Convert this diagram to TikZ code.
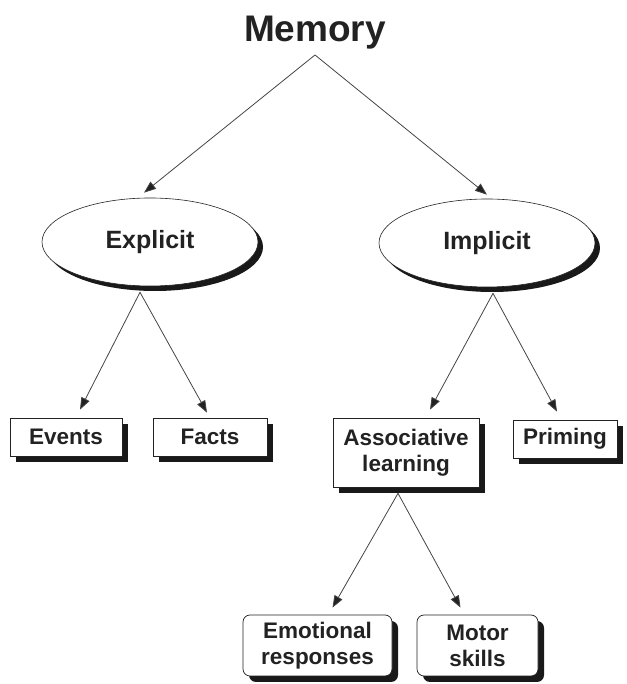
\documentclass[tikz,border=0pt]{standalone}
\usepackage{fontspec}
\setmainfont{Liberation Sans}
\usetikzlibrary{shapes.geometric,shadows,arrows.meta,calc}
\definecolor{ink}{HTML}{222222}
\definecolor{linec}{HTML}{444444}
\tikzset{
  x=1pt,y=1pt,
  arr/.style={draw=linec,line width=0.8pt,-{Triangle[length=12pt,width=9pt,fill=ink]}},
  ovalbox/.style={ellipse,draw=ink,line width=0.6pt,fill=white,inner sep=0pt,
    minimum width=216pt,minimum height=88pt,text=ink,
    font=\fontsize{25}{28}\selectfont\bfseries,
    drop shadow={shadow xshift=5pt,shadow yshift=-5pt,fill=black!90,opacity=1}},
  sqbox/.style={rectangle,draw=ink,line width=0.7pt,fill=white,inner sep=0pt,
    text=ink,align=center,font=\fontsize{22.5}{26}\selectfont\bfseries,
    drop shadow={shadow xshift=6pt,shadow yshift=-6pt,fill=black!90,opacity=1}},
  rdbox/.style={sqbox,rounded corners=7pt},
}
\begin{document}
\begin{tikzpicture}
\useasboundingbox (0,0) rectangle (626,684);
\node[anchor=base,text=ink,font=\fontsize{37}{40}\selectfont\bfseries] (memory) at (315,642) {Memory};
\coordinate (apex) at (315,629);

\node[ovalbox] (explicit) at (150,442) {Explicit};
\node[ovalbox] (implicit) at (487,441) {Implicit};

\node[sqbox,minimum width=112pt,minimum height=38pt] (events) at (66,247) {\raisebox{-2pt}{Events}};
\node[sqbox,minimum width=114pt,minimum height=38pt] (facts) at (210,247) {\raisebox{-2pt}{Facts}};
\node[sqbox,minimum width=146pt,minimum height=69pt] (assoc) at (406,231.5) {Associative\\learning};
\node[sqbox,minimum width=104pt,minimum height=38pt] (priming) at (565,245) {\raisebox{-1pt}{Priming}};
\node[rdbox,minimum width=149pt,minimum height=61pt] (emot) at (317.5,38.5) {Emotional\\responses};
\node[rdbox,minimum width=121pt,minimum height=61pt] (motor) at (477.5,38.5) {Motor\\skills};

\draw[arr] (apex) -- ($(explicit.north)+(-6,5)$);
\draw[arr] (apex) -- ($(implicit.north)+(0,4)$);

\draw[arr] ($(explicit.south)+(-10,-6)$) -- ($(events.north)+(14,8)$);
\draw[arr] ($(explicit.south)+(-10,-6)$) -- ($(facts.north)+(-3,5)$);

\draw[arr] ($(implicit.south)+(6,-6)$) -- ($(assoc.north)+(24,8)$);
\draw[arr] ($(implicit.south)+(6,-6)$) -- ($(priming.north)+(-8,8)$);

\draw[arr] ($(assoc.south)+(-8,-6)$) -- ($(emot.north)+(15,7)$);
\draw[arr] ($(assoc.south)+(-8,-6)$) -- ($(motor.north)+(-17,7)$);
\end{tikzpicture}
\end{document}
